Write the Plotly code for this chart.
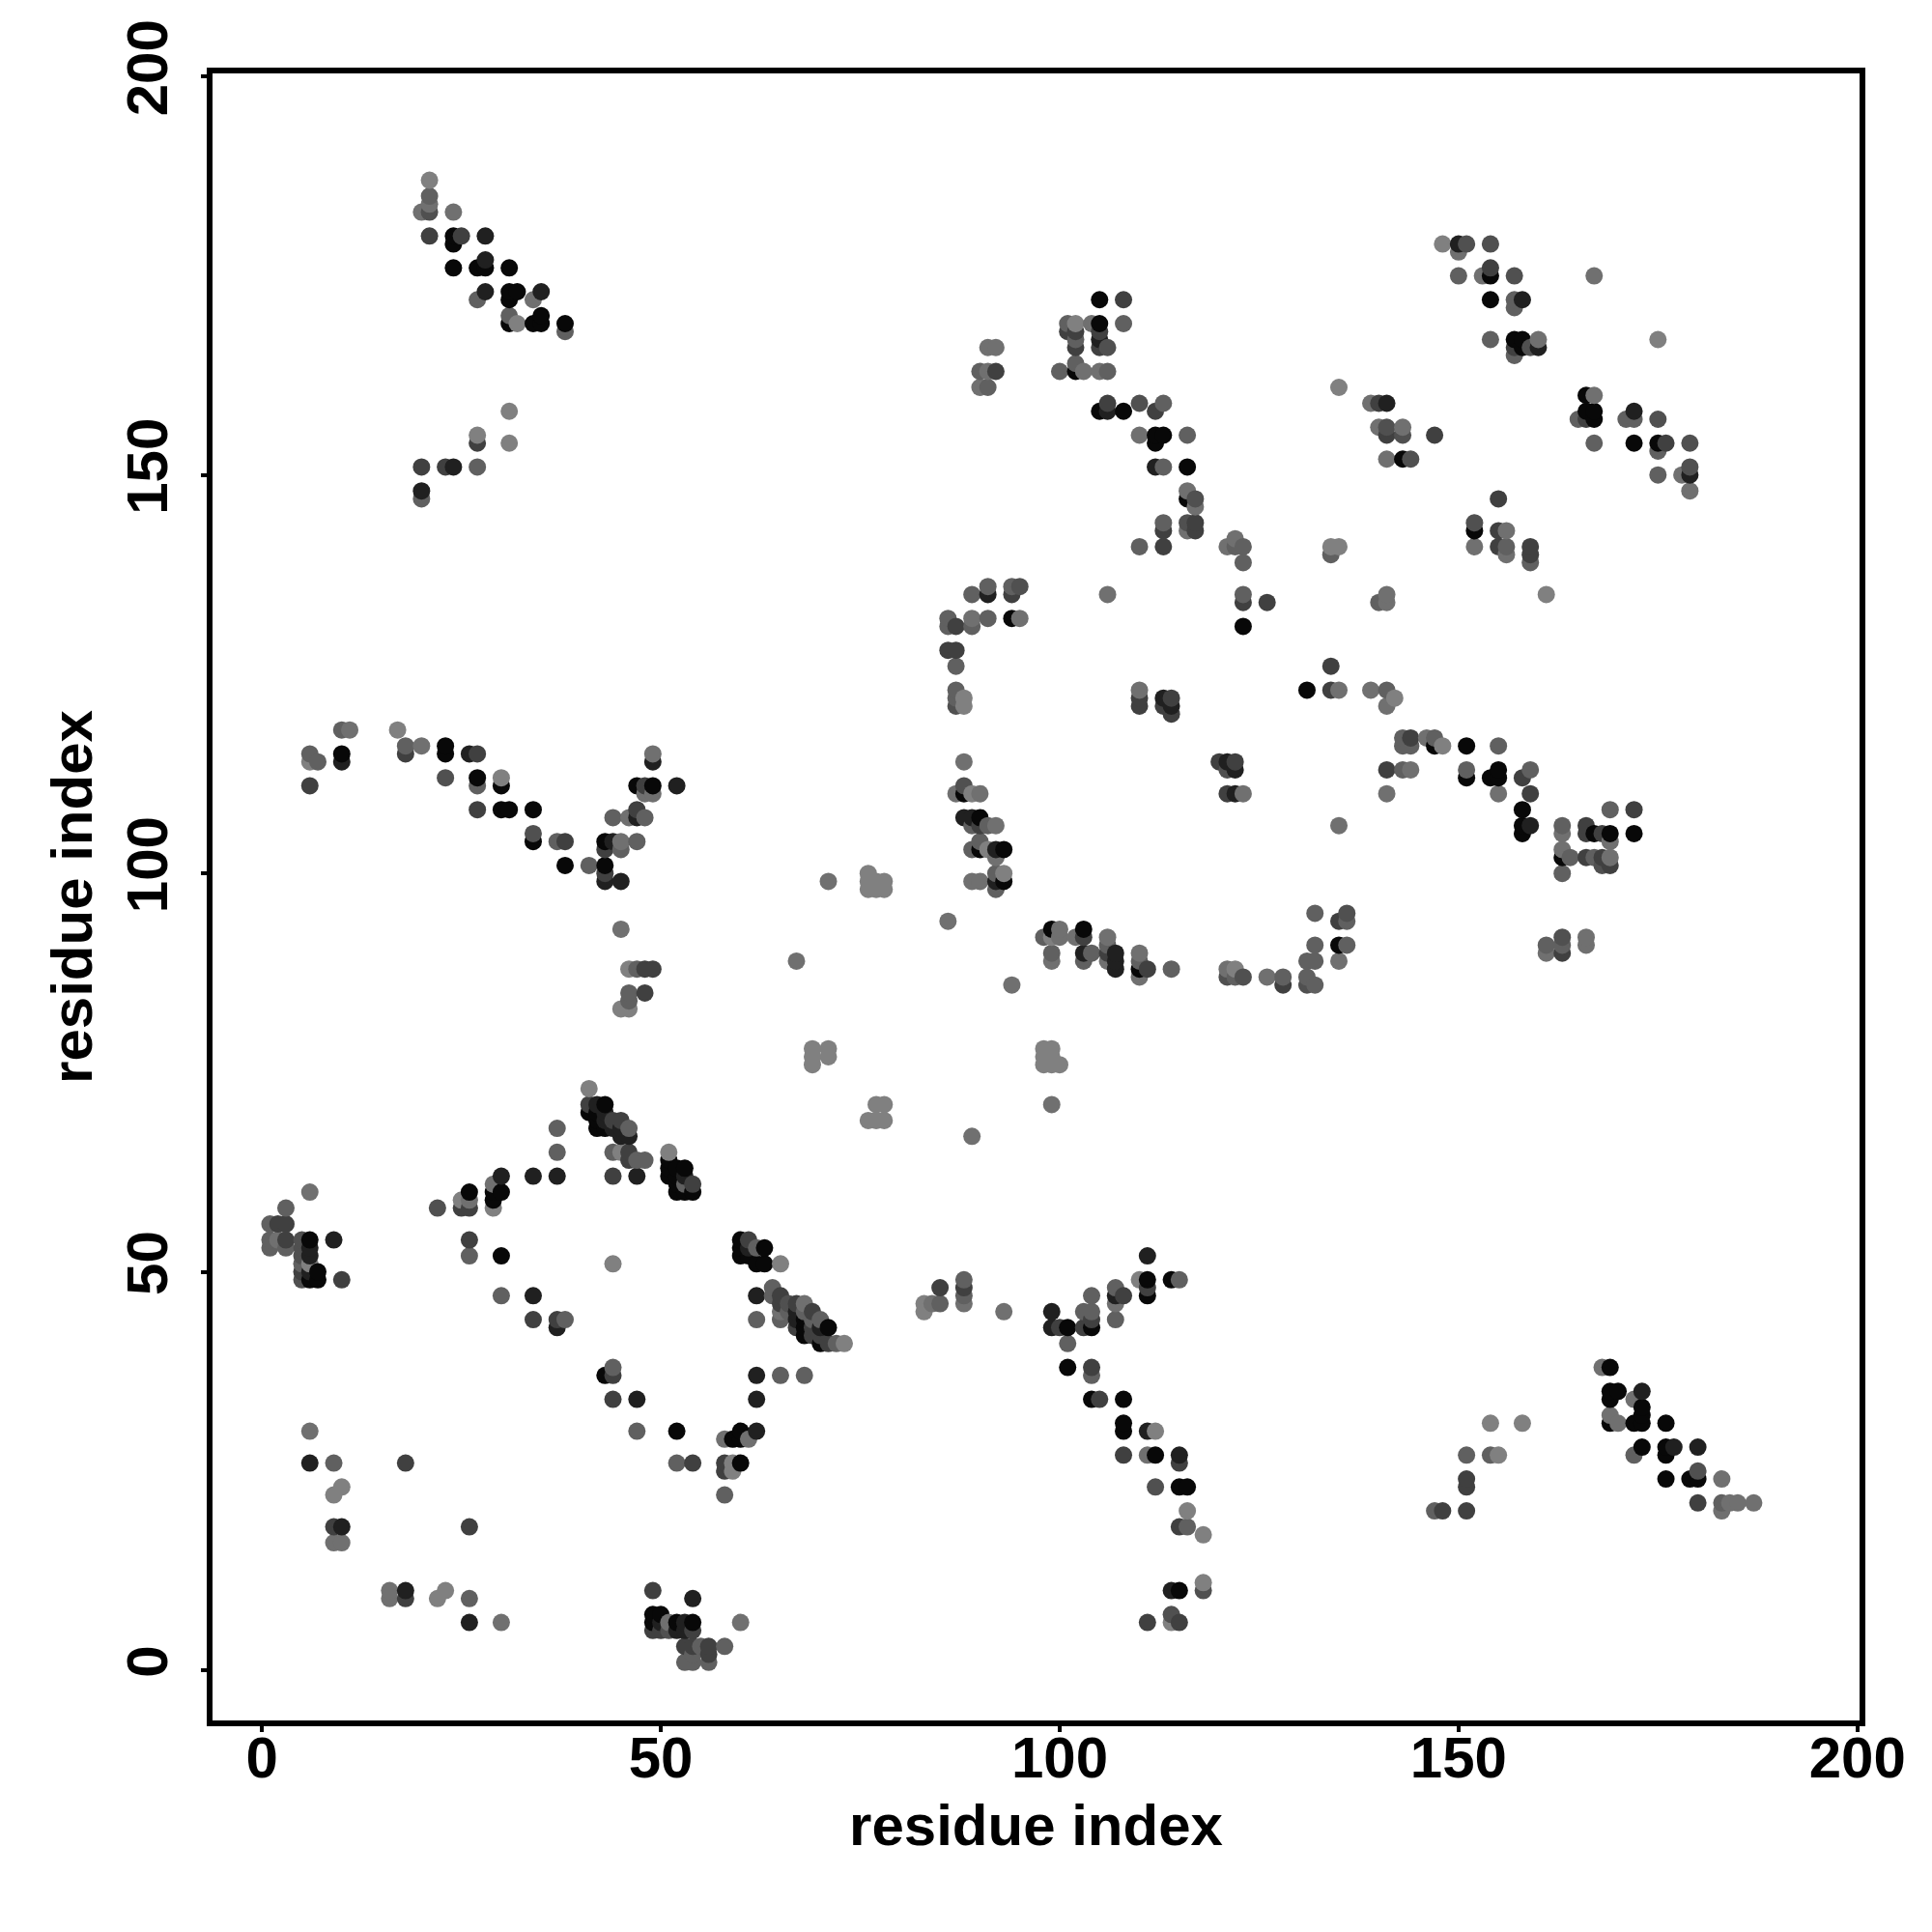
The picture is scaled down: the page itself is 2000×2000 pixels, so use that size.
import plotly.graph_objects as go

# grey levels
L, LM, M, DM, D, DR, B = 128, 112, 96, 80, 64, 32, 8

strand_a_i = [41,41,41,42,42,42,42,43,43,43,43,44,44,44,45,45,45,45,46,46,46,46,47,48,44,47,51,51,51,51,52,52,52,53,53,53,54,52,53,54,53]
strand_a_j = [73,71,70,71,70,69,68,71,70,69,68,69,68,65,69,68,67,65,68,67,65,64,64,64,62,62,65,64,63,62,63,62,61,63,62,61,61,60,60,60,60]
strand_a_g = [L,D,B,DR,B,B,B,B,DR,DR,B,D,DR,M,D,DR,DR,L,M,DR,D,D,M,M,D,DR,L,B,B,B,B,B,B,B,DR,M,D,B,B,B,B]

left_mid_i = [37,37,37,34,30,30,29,29,29,29,26,25,26,25,26,22,26,26,30,44]
left_mid_j = [68,65,62,62,62,60,61,60,59,58,60,59,59,58,58,58,54,52,52,51]
left_mid_g = [M,M,DR,DR,DR,B,LM,B,B,L,B,L,LM,D,D,DM,D,M,B,L]

low_left_i = [30,34,34,37,37,38]
low_left_j = [47,47,44,44,43,44]
low_left_g = [M,DR,D,D,DR,M]

edge_i = [6,3,1,2,3,1,2,3,1,3,5,6,6,6,5,5,6,5,7,6,7,5,9,10,5,6]
edge_j = [60,58,56,56,56,54,54,54,53,53,54,54,53,52,52,51,51,50,50,49,49,49,54,49,53,50]
edge_g = [LM,M,M,D,D,M,LM,D,M,M,DM,B,DR,DR,DM,M,L,D,B,B,B,DM,DR,D,DM,DR]

strand_b_i = [60,61,62,63,60,60,61,62,63,65,61,62,64,64,65,65,65,65,62,67,68,69,67,67,68,69,68,71,68,69,70,70,71,72,73,70,66,66,67,68,69,70]
strand_b_j = [54,54,53,53,53,52,52,51,51,51,53,47,48,47,46,45,44,47,44,46,46,45,45,44,44,44,43,43,42,42,42,41,41,41,41,43,46,45,43,45,43,44]
strand_b_g = [B,D,M,B,B,B,B,B,B,L,DR,DR,M,M,D,LM,M,D,M,D,LM,D,DR,DR,B,M,B,B,B,D,D,B,D,M,L,DR,DM,M,D,M,D,M]

cross_low_i = [62,65,68,62,44,43,44,44,47,47,52,58,59,60,60,61,62,52,54,58,58,59,59,60,58]
cross_low_j = [37,37,37,34,38,37,37,34,34,30,30,29,29,30,29,29,30,26,26,26,25,26,25,26,22]
cross_low_g = [DR,M,M,DR,M,B,D,D,DR,M,B,LM,B,B,B,LM,DR,M,D,D,D,L,L,B,M]

corner_i = [6,6,9,18,10,9,9,10,9,10,26,16,16,18,18,23,22,26,26,30]
corner_j = [30,26,26,26,23,22,18,18,16,16,18,10,9,10,9,10,9,9,6,6]
corner_g = [LM,DR,M,D,L,L,D,DR,LM,LM,D,LM,LM,DR,D,L,L,M,DR,LM]

bottom_i = [49,54,60,49,50,49,49,50,50,51,52,53,54,52,53,54,53,54,54,56,56,58,53,54,56,55,51]
bottom_j = [10,9,6,7,7,6,5,5,6,6,6,6,6,5,5,5,3,3,2,3,2,3,1,1,1,3,5]
bottom_g = [D,DR,LM,B,B,B,D,D,DR,LM,B,DR,B,DR,DR,D,D,D,M,D,D,M,M,M,M,M,DM]

center_i = [89,99,77,78,76,77,78,69,69,71,71,69,98,99,98,99,98,99,100,71,76,76,76,77,77,78,78,67,86,94]
center_j = [67,71,71,71,69,69,69,78,77,78,77,76,78,78,77,77,76,76,76,99,100,99,98,99,98,99,98,89,94,86]
center_g = [LM,LM,L,L,L,L,L,L,L,L,L,L,L,L,L,L,L,L,L,LM,L,L,L,L,L,L,L,LM,LM,LM]

rise_i = [111,114,115,110,111,111,111,107,107,108,107,107,104,103,104,104,103,104,99,99,100,101,101,85,88,88,88,88,83,83,84,85,93]
rise_j = [52,49,49,49,49,48,47,48,47,47,46,44,47,45,45,44,43,43,45,43,43,43,41,48,49,48,47,46,46,45,46,46,45]
rise_g = [DR,B,M,L,B,D,B,M,DR,D,LM,M,M,M,M,D,D,B,DR,DR,D,B,M,D,M,D,M,LM,L,L,LM,M,LM]

fall_i = [101,104,104,104,105,108,108,108,111,112,108,111,112,115,115,112,115,116,116,115,116,118,118,118,114,115,114,114,115,111]
fall_j = [38,38,37,34,34,34,31,30,30,30,27,27,27,27,26,23,23,23,20,18,18,17,11,10,10,10,7,6,6,6]
fall_g = [B,D,M,B,D,B,B,B,DR,L,D,LM,B,DR,D,DM,B,B,L,D,M,L,L,DM,DR,B,DM,L,D,D]

arc_i = [154,158,151,154,155,151,151,147,148,151]
arc_j = [31,31,27,27,27,24,23,20,20,20]
arc_g = [L,L,M,M,L,D,D,M,D,D]

strand_c_i = [168,169,169,170,173,169,172,169,173,169,170,172,173,176,173,176,177,180,176,172,180,180,179,176,183,180,183,184,185,187,183,173]
strand_c_j = [38,38,35,35,35,34,34,32,32,31,31,31,31,31,28,28,28,28,27,27,25,24,24,24,24,21,21,21,21,21,20,33]
strand_c_g = [LM,B,B,B,DR,B,LM,LM,B,B,LM,B,B,B,B,B,DR,DR,B,M,DM,B,B,B,LM,D,M,LM,LM,LM,LM,B]

wave_i = [10,11,17,6,7,6,10,10,18,18,20,23,23,26,27,23,27,27,30,30,6,27,30,31,34,34,34,37,38,38,41,43,44,45,47,43,45,43,43,43,45,44,46,47,47,48,49,49,47,48,49,52,48,49]
wave_j = [118,118,118,115,114,114,115,114,116,115,116,116,115,115,115,112,112,111,112,111,111,108,108,108,108,105,104,104,104,101,101,104,104,104,104,103,103,101,100,99,99,107,107,108,107,107,115,114,111,111,111,111,110,110]
wave_g = [M,LM,L,M,M,L,B,DR,M,D,LM,B,B,DR,D,DM,B,M,L,B,D,D,B,B,B,DM,B,M,D,B,M,B,DR,LM,M,D,M,B,D,DR,DR,M,LM,D,DR,M,LM,DR,B,D,B,DR,LM,LM]

drop_i = [45,46,47,48,49,46,48,46,45,46]
drop_j = [93,88,88,88,88,85,85,84,83,83]
drop_g = [LM,L,M,D,D,M,D,M,L,L]

column_i = [87,87,87,88,88,88,88,87,88,89,90,88,89,90,89,90,91,92,90,89,90,91,92,93,92,93,92,93,89,90,92,92,88,87]
column_j = [123,122,121,122,121,114,111,110,110,110,110,107,107,107,106,106,106,106,104,103,103,103,103,103,102,100,100,99,99,99,99,98,122,126]
column_g = [M,M,DM,L,L,LM,DM,LM,B,L,LM,DR,DR,B,M,D,M,LM,M,M,B,L,DR,B,LM,L,M,B,LM,LM,DR,M,L,M]

block_i = [110,110,110,113,114,113,114,114,131,134,134,135,139,141,142,141,120,121,122,121,122,121,122,123,135,141,143,144,141]
block_j = [123,122,121,122,122,121,121,120,123,126,123,123,123,123,122,121,114,114,114,113,113,110,110,110,106,113,113,113,110]
block_g = [LM,D,D,DR,D,D,DR,D,B,D,D,LM,LM,M,L,LM,D,DR,D,DM,DR,D,DR,LM,LM,D,M,LM,LM]

ridge_i = [143,144,143,144,146,147,147,148,151,155,151,151,155,154,155,158,159,155,159,158,158,159,158,163,163,166,166,167,168,169,169,169,172,172,163,163,164,166,167,168,169,168,169,163]
ridge_j = [117,117,116,116,117,117,116,116,116,116,113,112,113,112,112,112,113,110,110,108,106,106,105,106,105,106,105,105,105,105,104,108,108,105,103,102,102,102,102,102,102,101,101,100]
ridge_g = [M,D,M,M,LM,M,B,L,B,M,M,B,B,B,B,D,M,LM,D,B,B,DR,B,M,LM,D,D,B,D,B,LM,M,D,B,LM,B,M,D,M,D,LM,DM,D,M]

valley_i = [99,100,98,99,100,103,102,103,99,99,103,103,104,106,106,106,107,107,107,106,110,110,110,111,110,114,121,122,121,122,123,126,128,128,131,131,132,131,132,132,132,135,136,136,135,136,135,161,161,163,163,163,166,166]
valley_j = [93,93,92,92,92,93,92,92,90,89,90,89,90,92,91,90,90,89,88,89,90,89,88,88,87,88,88,88,87,87,87,87,87,86,87,86,86,89,89,91,95,94,95,94,91,91,89,91,90,92,91,90,92,91]
valley_g = [B,LM,M,L,LM,B,LM,D,M,LM,DR,M,M,LM,M,D,DR,DR,DR,LM,LM,M,B,D,LM,M,LM,L,DM,M,DM,LM,M,D,M,DM,M,M,M,M,M,D,DM,M,B,M,LM,M,LM,DM,M,D,LM,LM]

top_left_i = [21,21,21,21,20,24,21,24,25,24,28,24,27,28,28,31,28,27,31,32,31,34,35,31,31,32,34,35,35,38,38]
top_left_j = [187,185,184,183,183,183,180,180,180,179,180,176,176,177,176,176,173,172,173,173,172,172,173,170,169,169,169,170,169,169,168]
top_left_g = [L,M,LM,DM,LM,LM,D,B,D,B,DR,B,B,DR,B,B,DR,M,B,B,B,LM,DR,M,B,L,B,B,B,B,M]

side_left_i = [31,27,27,31,20,23,24,27,20,20]
side_left_j = [158,155,154,154,151,151,151,151,148,147]
side_left_g = [L,L,D,L,D,D,DR,M,DR,M]

upper_mid_i = [105,108,101,102,104,105,108,101,102,105,102,105,102,105,106,91,92,90,91,92,90,91,100,102,102,103,105,106]
upper_mid_j = [172,172,169,169,169,169,169,168,168,168,167,167,166,166,166,166,166,163,163,163,161,161,163,164,163,163,163,163]
upper_mid_g = [B,D,M,L,LM,B,M,D,D,D,M,DR,D,D,DM,LM,LM,M,LM,D,LM,M,M,M,B,LM,LM,M]

stair_i = [105,106,106,108,110,112,113,110,112,113,112,116,112,113,116,116,116,117,117,113,113,116,117,116,117,110,113,122,121,122,123,123,123,123,126,123,106,134,135,134,141,140,141,161,91,91,94,95,94,89,89,91,94,95,89,87,86,86,87,86]
stair_j = [158,159,158,158,159,158,159,155,155,155,154,155,151,151,151,148,147,147,146,144,143,144,144,143,143,141,141,142,141,141,141,139,135,134,134,131,135,141,141,140,135,134,134,135,136,135,136,136,135,135,132,132,132,132,131,131,132,131,128,128]
stair_g = [B,D,DR,B,DM,D,M,LM,B,B,B,M,DR,M,B,LM,B,DM,LM,M,D,DM,D,LM,D,M,D,LM,LM,M,M,M,M,D,D,B,LM,L,L,M,LM,M,LM,L,M,DR,M,DM,D,M,LM,M,B,LM,M,D,M,M,D,D]

upper_right_i = [148,150,151,154,150,150,153,154,154,157,167,154,157,158,157,154,157,158,160,157,158,159,160,157,175,135,166,167,166,167,165,166,167,167,172,171,172,175,172,175,176,179,175,175,178,179,179,179]
upper_right_j = [179,179,179,179,178,175,175,176,175,175,175,172,172,172,171,167,167,167,167,166,166,166,166,165,167,161,160,160,158,158,157,157,157,154,158,157,157,157,154,154,154,154,153,150,150,151,150,148]
upper_right_g = [L,DR,DM,DM,LM,M,LM,D,B,DM,LM,B,M,DR,M,M,B,B,LM,D,B,DM,DR,M,L,L,B,LM,B,B,M,D,B,M,DR,M,M,DM,B,B,D,DM,M,M,LM,DM,DR,LM]

cluster_r_i = [139,140,141,140,141,143,141,143,147,141,143,144,155,152,152,155,156,152,155,156,156,159,159,159]
cluster_r_j = [159,159,159,156,156,156,155,155,155,152,152,152,147,144,143,143,143,141,141,141,140,141,140,139]
cluster_r_g = [LM,D,DR,LM,DM,LM,D,DM,D,LM,B,DM,D,DM,B,D,LM,LM,D,M,LM,D,D,M]

groups = [
    (strand_a_i, strand_a_j, strand_a_g), (left_mid_i, left_mid_j, left_mid_g),
    (low_left_i, low_left_j, low_left_g),
    (edge_i, edge_j, edge_g), (strand_b_i, strand_b_j, strand_b_g),
    (cross_low_i, cross_low_j, cross_low_g), (corner_i, corner_j, corner_g),
    (bottom_i, bottom_j, bottom_g), (center_i, center_j, center_g),
    (rise_i, rise_j, rise_g), (fall_i, fall_j, fall_g), (arc_i, arc_j, arc_g),
    (strand_c_i, strand_c_j, strand_c_g), (wave_i, wave_j, wave_g),
    (drop_i, drop_j, drop_g), (column_i, column_j, column_g),
    (block_i, block_j, block_g), (ridge_i, ridge_j, ridge_g),
    (valley_i, valley_j, valley_g), (top_left_i, top_left_j, top_left_g),
    (side_left_i, side_left_j, side_left_g), (upper_mid_i, upper_mid_j, upper_mid_g),
    (stair_i, stair_j, stair_g), (upper_right_i, upper_right_j, upper_right_g),
    (cluster_r_i, cluster_r_j, cluster_r_g),
]
rows = []
for a, b, c in groups:
    n = min(len(a), len(b), len(c))
    rows += list(zip(a[:n], b[:n], c[:n]))
rows = sorted(set(rows), key=lambda r: (r[0], r[1]))
x = [r[0] for r in rows]
y = [r[1] for r in rows]
colors = [f"rgb({r[2]},{r[2]},{r[2]})" for r in rows]

tick_vals = [0, 50, 100, 150, 200]
axis_font = dict(family="Liberation Sans", size=60, color="black", weight="bold")

fig = go.Figure(go.Scatter(x=x, y=y, mode="markers",
                           marker=dict(size=18, color=colors, line=dict(width=0))))
common = dict(tickvals=tick_vals, ticks="outside", ticklen=6, tickwidth=4, tickcolor="black",
              showline=True, linecolor="black", linewidth=6, mirror=True, showgrid=False,
              zeroline=False, tickfont=axis_font)
fig.update_xaxes(range=[-6.2, 200.27], ticklabelstandoff=-25,
                 title=dict(text="residue index", font=axis_font, standoff=18), **common)
fig.update_yaxes(range=[-6.3, 200.4], tickangle=-90, ticklabelstandoff=11,
                 title=dict(text="residue index", font=axis_font, standoff=6), **common)
fig.update_layout(width=1984, height=1984, autosize=False, plot_bgcolor="white", paper_bgcolor="white",
                  margin=dict(l=211.5, r=67, t=66, b=211), showlegend=False)
fig.write_html("out.html")
